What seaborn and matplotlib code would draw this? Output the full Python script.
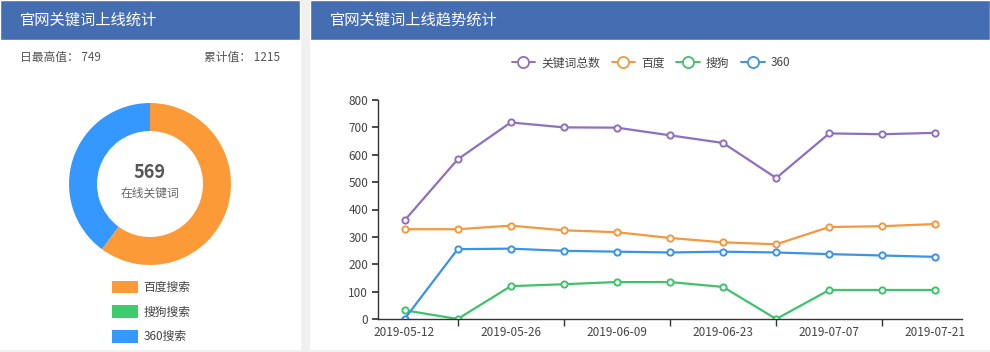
import numpy as np
import pandas as pd
import matplotlib
matplotlib.use("Agg")
import matplotlib.pyplot as plt
import seaborn as sns
from matplotlib.patches import Rectangle, Patch
from matplotlib.lines import Line2D

# ---- data ----
dates = ['2019-05-12', '2019-05-19', '2019-05-26', '2019-06-02', '2019-06-09', '2019-06-16',
         '2019-06-23', '2019-06-30', '2019-07-07', '2019-07-14', '2019-07-21']
total = [360, 583, 718, 700, 699, 671, 643, 515, 678, 675, 680]
baidu = [328, 328, 341, 324, 317, 296, 280, 273, 336, 339, 347]
sogou = [32, 0, 120, 127, 135, 135, 117, 0, 106, 106, 106]
s360 = [0, 255, 257, 249, 246, 243, 246, 243, 237, 232, 227]
series_names = ['关键词总数', '百度', '搜狗', '360']

donut_labels = ['百度搜索', '搜狗搜索', '360搜索']
donut_values = [342, 0, 227]
online_total = 569
day_max = 749
cum_total = 1215

sns.set_theme(style="white")
plt.rcParams['font.family'] = ['Noto Sans CJK SC', 'DejaVu Sans']

W, H = 990, 352
fig = plt.figure(figsize=(W / 100, H / 100), dpi=100)
fig.patch.set_facecolor('#f0f0f0')


def px(x, y, w, h):
    # pixel box (top-left origin) -> figure fraction
    return [x / W, 1 - (y + h) / H, w / W, h / H]


def fx(x):
    return x / W


def fy(y):
    return 1 - y / H


header_c = '#456db1'
for (x0, x1) in [(0, 300), (310, 990)]:
    fig.patches.append(Rectangle((fx(x0), fy(349)), fx(x1 - x0), (349) / H,
                                 transform=fig.transFigure, facecolor='white', zorder=-2))
    fig.patches.append(Rectangle((fx(x0), fy(40)), fx(x1 - x0), 40 / H,
                                 transform=fig.transFigure, facecolor=header_c, zorder=-1))

fig.text(fx(20), fy(20), '官网关键词上线统计', color='white', fontsize=11, va='center', ha='left')
fig.text(fx(330), fy(20), '官网关键词上线趋势统计', color='white', fontsize=11, va='center', ha='left')
fig.text(fx(20), fy(58), f'日最高值： {day_max}', color='#555555', fontsize=8.5, va='center')
fig.text(fx(280), fy(58), f'累计值： {cum_total}', color='#555555', fontsize=8.5, va='center', ha='right')

# ---- donut ----
colors_d = ['#fd9a38', '#3ecb6c', '#3598fe']
axd = fig.add_axes(px(69, 103, 162, 162))
axd.patch.set_alpha(0)
wedges, _ = axd.pie(donut_values, colors=colors_d, startangle=90, counterclock=False,
                    wedgeprops=dict(width=28 / 81, edgecolor='none'), radius=1)
axd.set_xlim(-1, 1)
axd.set_ylim(-1, 1)
axd.set_aspect('equal')
axd.text(0, 0.14, str(online_total), ha='center', va='center', fontsize=13, fontweight='bold', color='#555555')
axd.text(0, -0.11, '在线关键词', ha='center', va='center', fontsize=8.5, color='#666666')

handles_d = [Patch(facecolor=c, edgecolor='none') for c in colors_d]
fig.legend(handles_d, donut_labels, loc='upper left', bbox_to_anchor=(fx(101), fy(270)),
           frameon=False, fontsize=8.5, handlelength=2.2, handleheight=1.3,
           labelspacing=0.95, handletextpad=0.5, labelcolor='#444444')

# ---- line chart ----
colors_l = ['#8e6fc0', '#f4973f', '#3ec36b', '#3a93e6']
df = pd.DataFrame({'idx': np.arange(len(dates)), '关键词总数': total, '百度': baidu,
                   '搜狗': sogou, '360': s360})
long = df.melt(id_vars='idx', var_name='series', value_name='value')

ax = fig.add_axes(px(378, 100, 584, 219))
sns.lineplot(data=long, x='idx', y='value', hue='series', hue_order=series_names,
             palette=colors_l, marker='o', markersize=4.5, linewidth=1.6, ax=ax, legend=False)
for ln in ax.lines:
    ln.set_markerfacecolor('white')
    ln.set_markeredgecolor(ln.get_color())
    ln.set_markeredgewidth(1.4)
ax.patch.set_alpha(0)
ax.set_xlim(-0.5, len(dates) - 0.5)
ax.set_ylim(0, 800)
ax.set_yticks(range(0, 801, 100))
ax.set_xticks(np.arange(0, len(dates), 2))
ax.set_xticklabels(dates[::2])
ax.set_xticks(np.arange(1, len(dates), 2), minor=True)
ax.tick_params(axis='x', which='major', length=0, pad=5, labelsize=8.5, labelcolor='#444444')
ax.tick_params(axis='x', which='minor', length=5, direction='out', color='#333333', bottom=True)
ax.tick_params(axis='y', length=4, direction='out', color='#333333', left=True, labelsize=8.5,
               labelcolor='#444444', pad=3)
ax.set_xlabel('')
ax.set_ylabel('')
for s in ['top', 'right']:
    ax.spines[s].set_visible(False)
for s in ['left', 'bottom']:
    ax.spines[s].set_color('#333333')
    ax.spines[s].set_linewidth(1)
ax.grid(False)

handles_l = [Line2D([], [], color=c, marker='o', markerfacecolor='white', markeredgewidth=1.3,
                    markersize=8, linewidth=1.4) for c in colors_l]
fig.legend(handles_l, series_names, loc='center', bbox_to_anchor=(fx(651), fy(63)), ncol=4,
           frameon=False, fontsize=8.5, handlelength=2.0, handletextpad=0.5, columnspacing=1.0,
           labelcolor='#444444')

fig.savefig('out.png', dpi=100)
